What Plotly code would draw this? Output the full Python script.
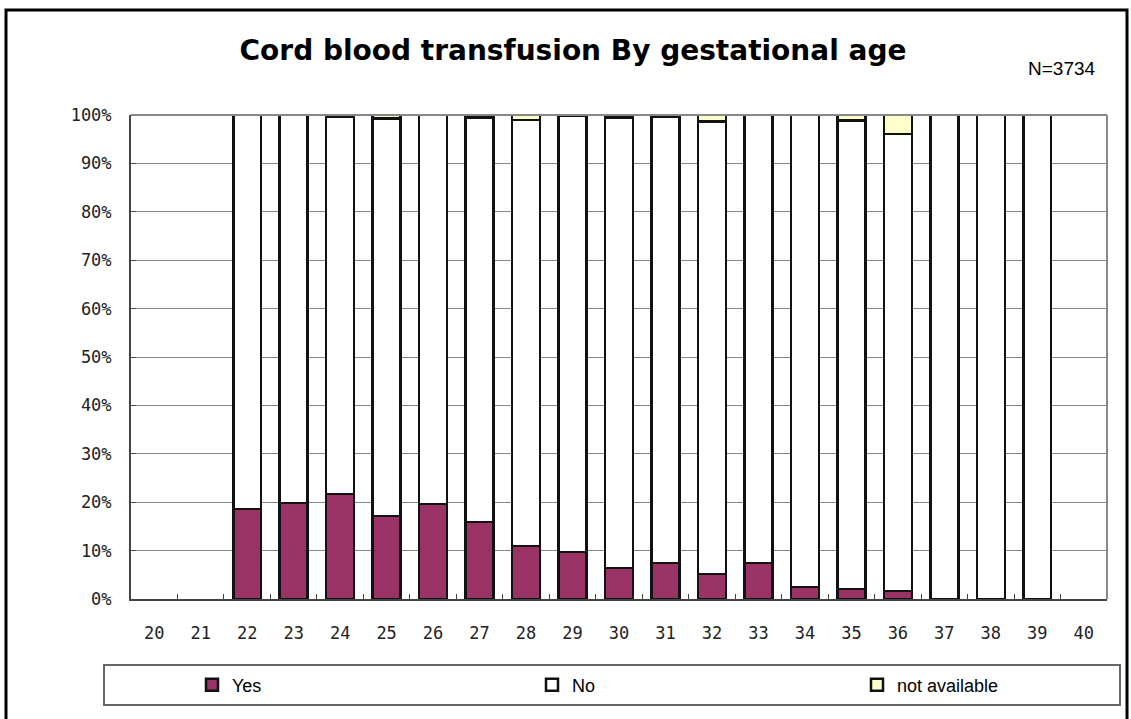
import plotly.graph_objects as go

ages = [str(a) for a in range(20, 41)]
yes_pct = [None, None, 18.6, 19.8, 21.7, 17.1, 19.6, 15.9, 11.0, 9.7, 6.4, 7.4, 5.2, 7.4, 2.5, 2.1, 1.7, 0.0, 0.0, 0.0, None]
na_pct = [None, None, 0.0, 0.0, 0.4, 0.7, 0.0, 0.5, 1.0, 0.2, 0.5, 0.4, 1.3, 0.0, 0.0, 1.1, 3.9, 0.0, 0.0, 0.0, None]
no_pct = [None if y is None else round(100 - y - n, 1) for y, n in zip(yes_pct, na_pct)]
y_ticks = list(range(0, 101, 10))
y_tick_labels = [f"{v}%" for v in y_ticks]

W, H = 1131, 719
L, R, T, B = 131, 1107, 115, 599
pw, ph = R - L, B - T

def px(x):
    return (x - L) / pw

def py(y):
    return (B - y) / ph

line = dict(color="#111111", width=2.5)
fig = go.Figure()
fig.add_trace(go.Bar(x=ages, y=yes_pct, name="Yes", legend="legend",
                     marker=dict(color="#993366", line=line)))
fig.add_trace(go.Bar(x=ages, y=no_pct, name="No", legend="legend2",
                     marker=dict(color="#FFFFFF", line=line)))
fig.add_trace(go.Bar(x=ages, y=na_pct, name="not available", legend="legend3",
                     marker=dict(color="#FFFFCC", line=line)))

leg_font = dict(family="Liberation Sans, Arial", size=18, color="#000000")

def leg(xpx):
    return dict(x=px(xpx), xanchor="left", y=py(685), yanchor="middle",
                font=leg_font, bgcolor="rgba(0,0,0,0)", itemwidth=30,
                orientation="h")

fig.update_layout(
    barmode="stack",
    bargap=0.4,
    width=W, height=H,
    margin=dict(l=L, r=W - R, t=T, b=H - B, autoexpand=False),
    paper_bgcolor="white",
    plot_bgcolor="white",
    title=dict(text="<b>Cord blood transfusion By gestational age</b>",
               x=573 / W, xanchor="center", y=1 - 50 / H, yanchor="middle",
               font=dict(family="DejaVu Sans", size=28, color="#000000")),
    showlegend=True,
    legend=leg(192),
    legend2=leg(532),
    legend3=leg(857),
    font=dict(family="DejaVu Sans Mono", size=17, color="#222222"),
)
fig.update_xaxes(
    type="category", categoryorder="array", categoryarray=ages,
    range=[-0.5, 20.5],
    showline=True, linecolor="#444444", linewidth=2,
    ticks="inside", ticklen=5, tickcolor="#444444", tickson="boundaries",
    showgrid=False, zeroline=False,
    tickfont=dict(family="DejaVu Sans Mono", size=17, color="#222222"),
    ticklabelstandoff=18,
)
fig.update_yaxes(
    range=[0, 100], tickvals=y_ticks, ticktext=y_tick_labels,
    showline=True, linecolor="#444444", linewidth=2,
    ticks="inside", ticklen=5, tickcolor="#444444",
    showgrid=True, gridcolor="#888888", gridwidth=1, zeroline=False,
    tickfont=dict(family="DejaVu Sans Mono", size=17, color="#222222"),
    ticklabelstandoff=14,
)

shapes = [
    dict(type="line", xref="paper", yref="paper", x0=0, x1=1, y0=1, y1=1, line=dict(color="#888888", width=2)),
    dict(type="line", xref="paper", yref="paper", x0=1, x1=1, y0=0, y1=1, line=dict(color="#888888", width=2)),
    dict(type="rect", xref="paper", yref="paper", x0=px(104), x1=px(1120), y0=py(705), y1=py(665),
         line=dict(color="#666666", width=2), fillcolor="rgba(0,0,0,0)", layer="below"),
    dict(type="rect", xref="paper", yref="paper", x0=px(6), x1=px(1127), y0=py(740), y1=py(10),
         line=dict(color="#000000", width=3), fillcolor="rgba(0,0,0,0)", layer="below"),
]
fig.update_layout(shapes=shapes)
fig.add_annotation(text="N=3734", xref="paper", yref="paper", x=px(1062), y=py(68),
                   xanchor="center", yanchor="middle", showarrow=False,
                   font=dict(family="Liberation Sans, Arial", size=19, color="#000000"))

fig.write_html("out.html", config={"displayModeBar": False},
               post_script="document.body.style.margin='0';document.body.style.overflow='hidden';")
